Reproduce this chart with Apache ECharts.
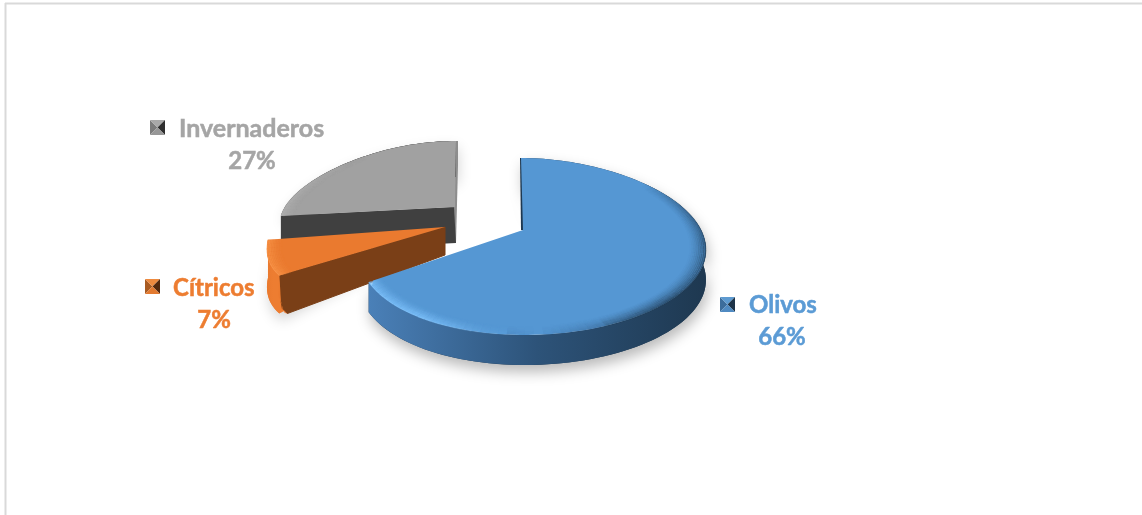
<!DOCTYPE html>
<html>
<head>
<meta charset="utf-8">
<style>html,body{margin:0;padding:0;background:#fff}#c{width:1142px;height:515px}</style>
<script src="https://cdn.jsdelivr.net/npm/echarts@6/dist/echarts.min.js"></script>
</head>
<body>
<div id="c"></div>
<script>
// Shares of cultivated surface
const categories = ['Olivos', 'Cítricos', 'Invernaderos'];
const shares = [66, 7, 27];

// Painter's order: back slice first
const drawOrder = [2, 1, 0];

// Per-slice projection of the tilted disc and its look
const looks = [
  { ax: 523, ay: 230, R: 169, m: 0.25, c: 9, sh: 2, Ry: 88.5, k: 16.5, h0: 30, hk: 0,
    top: '#5597d3', sideL: '#4a80b8', sideM: '#2d5379', sideR: '#1e3850', cut: '#1e3850',
    rim: [[55,'#1e3850',0],[98,'#1e3850',.7],[140,'#1e3850',.75],[176,'#2d5379',0],[192,'#7cc0fa',.15],[212,'#7cc0fa',.9],[238,'#7cc0fa',.9]],
    sideFrom: 55, shadow: 'rgba(0,0,0,0.28)', fontSize: 24, key: [749, 305, 782, 337, 720, 297], keyC: ['#3c6d9c','#5d9ad0','#1d3348','#4f8ac2'], text: '#5b9bd5' },
  { ax: 445, ay: 227, R: 173, m: 0.25, c: 0, sh: 0, Ry: 105, k: -27, h0: 28, hk: 10,
    top: '#ea7a2f', sideL: '#e9792e', sideM: '#ed7d31', sideR: '#ed7d31', cut: '#7a3f17',
    rim: [[236,'#f9954a',.8],[264,'#f9954a',.8]],
    sideFrom: 0, shadow: 'rgba(0,0,0,0.18)', fontSize: 24, key: [173, 288, 214, 320, 145, 279], keyC: ['#a95b22','#ee8a3f','#54290e','#e37a30'], text: '#ed7d31' },
  { ax: 455, ay: 207, R: 170, m: 0.25, c: 0, sh: -1, Ry: 72, k: 6, h0: 36, hk: 0,
    top: '#a1a1a1', sideL: '#404040', sideM: '#404040', sideR: '#404040', cut: '#404040',
    rim: [[262,'#b4b4b4',.7],[295,'#b4b4b4',.2],[320,'#a5a5a5',0]],
    sideFrom: 0, shadow: 'rgba(0,0,0,0.18)', fontSize: 25, key: [179, 129, 252, 161, 150, 120], keyC: ['#7b7b7b','#a8a8a8','#2e2e2e','#979797'], text: '#a5a5a5' }
];

const rad = Math.PI / 180;
const total = shares.reduce((a, b) => a + b, 0);
const starts = [];
shares.reduce((acc, v, i) => { starts[i] = acc; return acc + v / total * 360; }, 0);

// Maps a disc point (clockwise angle from the back, radial fraction) to the screen
function project(s, deg, r) {
  const u = Math.sin(deg * rad) * r, v = -Math.cos(deg * rad) * r;
  return [s.ax + s.R * u * (1 + s.m * v) + s.c * u * u + s.sh * v,
          s.ay + s.Ry * v + s.k * v * v];
}
function arc(s, a, b, r) {
  const pts = [], n = Math.max(2, Math.ceil(Math.abs(b - a) / 2));
  for (let i = 0; i <= n; i++) pts.push(project(s, a + (b - a) * i / n, r));
  return pts;
}
function rimAt(s, deg) {
  const st = s.rim;
  if (deg <= st[0][0]) return [st[0][1], deg < st[0][0] ? 0 : st[0][2]];
  for (let i = 1; i < st.length; i++) {
    if (deg <= st[i][0]) {
      const t = (deg - st[i-1][0]) / (st[i][0] - st[i-1][0]);
      return [t < .5 ? st[i-1][1] : st[i][1], st[i-1][2] + (st[i][2] - st[i-1][2]) * t];
    }
  }
  return [st[st.length-1][1], 0];
}

function renderSlice(params, api) {
  const idx = api.value(1);
  const s = looks[idx];
  const a = starts[idx], b = a + api.value(0) / total * 360;
  const kids = [];
  const apex = project(s, 0, 0);
  const down = (p, r) => [p[0], p[1] + s.h0 + s.hk * r];

  const outer = arc(s, a, b, 1);
  let face = [apex].concat(outer);
  if (idx === 0) {
    // Softened corner where the large slice's rim meets its cut edge
    const e = project(s, b, 1);
    const back = [e[0] + (apex[0] - e[0]) * .03, e[1] + (apex[1] - e[1]) * .03];
    face = [apex].concat(arc(s, a, b - 2.5, 1), [back]);
  }

  // Cast shadow of the whole silhouette
  const sil = [apex].concat(outer, outer.slice().reverse().map(p => down(p, 1)));
  kids.push({ type: 'polygon', z2: 1, shape: { points: sil },
    style: { fill: s.sideR, shadowBlur: 14, shadowOffsetY: 7, shadowOffsetX: 2, shadowColor: s.shadow } });

  // Cut faces seen from the front
  if (idx === 1) {
    const e = project(s, a, 1);
    kids.push({ type: 'polygon', z2: 2, shape: { points: [apex, e, [e[0] + 1.5, e[1] + 25], [e[0] + 3, e[1] + 33], [e[0] + 8, e[1] + 38], down(apex, 0)] },
      style: { fill: s.cut, stroke: s.cut, lineWidth: 1, lineJoin: 'round' } });
  }
  if (idx === 2) {
    const e = project(s, a, 1);
    kids.push({ type: 'polygon', z2: 2, shape: { points: [[apex[0] + 1, apex[1]], e, down(e, 1), [apex[0] + 1, apex[1] + s.h0]] },
      style: { fill: s.cut } });
    const t = project(s, b, 1);
    kids.push({ type: 'polygon', z2: 2, shape: { points: [[t[0] + 2, t[1]], [t[0] + 2, t[1] + 24], [apex[0] + 1, apex[1] + 36], [apex[0] - 1, apex[1]], t] },
      style: { fill: '#8d8d8d' } });
  }
  if (idx === 0) {
    const t = project(s, a, 1);
    kids.push({ type: 'polygon', z2: 2, shape: { points: [[t[0] - 1, t[1]], [apex[0] - 2, apex[1]], [apex[0] + 2, apex[1]], [t[0] + 2, t[1]]] },
      style: { fill: s.cut } });
  }

  // Curved outer wall
  const wallFrom = Math.max(a, s.sideFrom);
  const wallTop = arc(s, wallFrom, b, 1);
  const wall = wallTop.concat(wallTop.slice().reverse().map(p => down(p, 1)));
  const xs = wall.map(p => p[0]);
  const x0 = Math.min.apply(null, xs), x1 = Math.max.apply(null, xs);
  kids.push({ type: 'polygon', z2: 3, shape: { points: wall },
    style: { fill: new echarts.graphic.LinearGradient(x0, 0, x1, 0, [
      { offset: 0, color: s.sideL }, { offset: .5, color: s.sideM }, { offset: 1, color: s.sideR }], true),
      lineJoin: 'round' } });
  if (idx === 1) {
    // Thin lit edge wrapping the lower corner of the cut face
    const e = project(s, a, 1);
    kids.push({ type: 'polygon', z2: 3, shape: { points: [e, [e[0] - 1, e[1] + 20], [e[0] + 5, e[1] + 37], [e[0] + 8, e[1] + 38.5], [e[0] + 3, e[1] + 33], [e[0] + 1.5, e[1] + 25]] },
      style: { fill: s.top } });
  }

  // Top face
  kids.push({ type: 'polygon', z2: 4, shape: { points: face }, style: { fill: s.top } });

  // Soft bevel along the rim of the top face
  const layers = 10;
  for (let l = 0; l < layers; l++) {
    const r = 1 - l * 0.0085 - 0.002;
    const layerAlpha = Math.pow(1 - l / layers, 1.6);
    for (let d = a; d < b - 0.01; d += 2.5) {
      const e = Math.min(d + 2.5, b);
      const rc = rimAt(s, (d + e) / 2);
      if (rc[1] <= 0.01) continue;
      const p = project(s, d, r), q = project(s, e, r);
      kids.push({ type: 'line', z2: 5, silent: true,
        shape: { x1: p[0], y1: p[1], x2: q[0], y2: q[1] },
        style: { stroke: rc[0], lineWidth: 1.5, opacity: rc[1] * layerAlpha } });
    }
  }

  // Label: name, percentage and a small pyramid key
  const k = s.key, font = 'bold ' + s.fontSize + 'px Lato', pctFont = 'bold 24px Lato';
  const ink = { fill: s.text, stroke: s.text, lineWidth: 0.5, verticalAlign: 'middle' };
  kids.push({ type: 'text', z2: 6, style: Object.assign({ text: categories[idx], x: k[0], y: k[1], font: font, align: 'left' }, ink) });
  kids.push({ type: 'text', z2: 6, style: Object.assign({ text: Math.round(api.value(0) / total * 100) + '%', x: k[2], y: k[3], font: pctFont, align: 'center' }, ink) });
  const kx = k[4], ky = k[5], ks = 15, mid = [kx + ks / 2, ky + ks / 2];
  const corners = [[kx, ky], [kx + ks, ky], [kx + ks, ky + ks], [kx, ky + ks]];
  const tri = [[corners[3], corners[0]], [corners[0], corners[1]], [corners[1], corners[2]], [corners[2], corners[3]]];
  tri.forEach((pair, i) => kids.push({ type: 'polygon', z2: 6, shape: { points: [pair[0], pair[1], mid] }, style: { fill: s.keyC[i] } }));

  return { type: 'group', children: kids };
}

const chart = echarts.init(document.getElementById('c'), null, { renderer: 'canvas' });
chart.setOption({
  animation: false,
  backgroundColor: '#ffffff',
  graphic: [
    { type: 'line', shape: { x1: 5, y1: 3.5, x2: 1142, y2: 3.5 }, style: { stroke: '#d9d9d9', lineWidth: 2 } },
    { type: 'line', shape: { x1: 5.5, y1: 3, x2: 5.5, y2: 515 }, style: { stroke: '#d9d9d9', lineWidth: 2 } }
  ],
  series: [{
    type: 'custom',
    coordinateSystem: 'none',
    renderItem: renderSlice,
    data: drawOrder.map(i => [shares[i], i])
  }]
});
</script>
</body>
</html>
